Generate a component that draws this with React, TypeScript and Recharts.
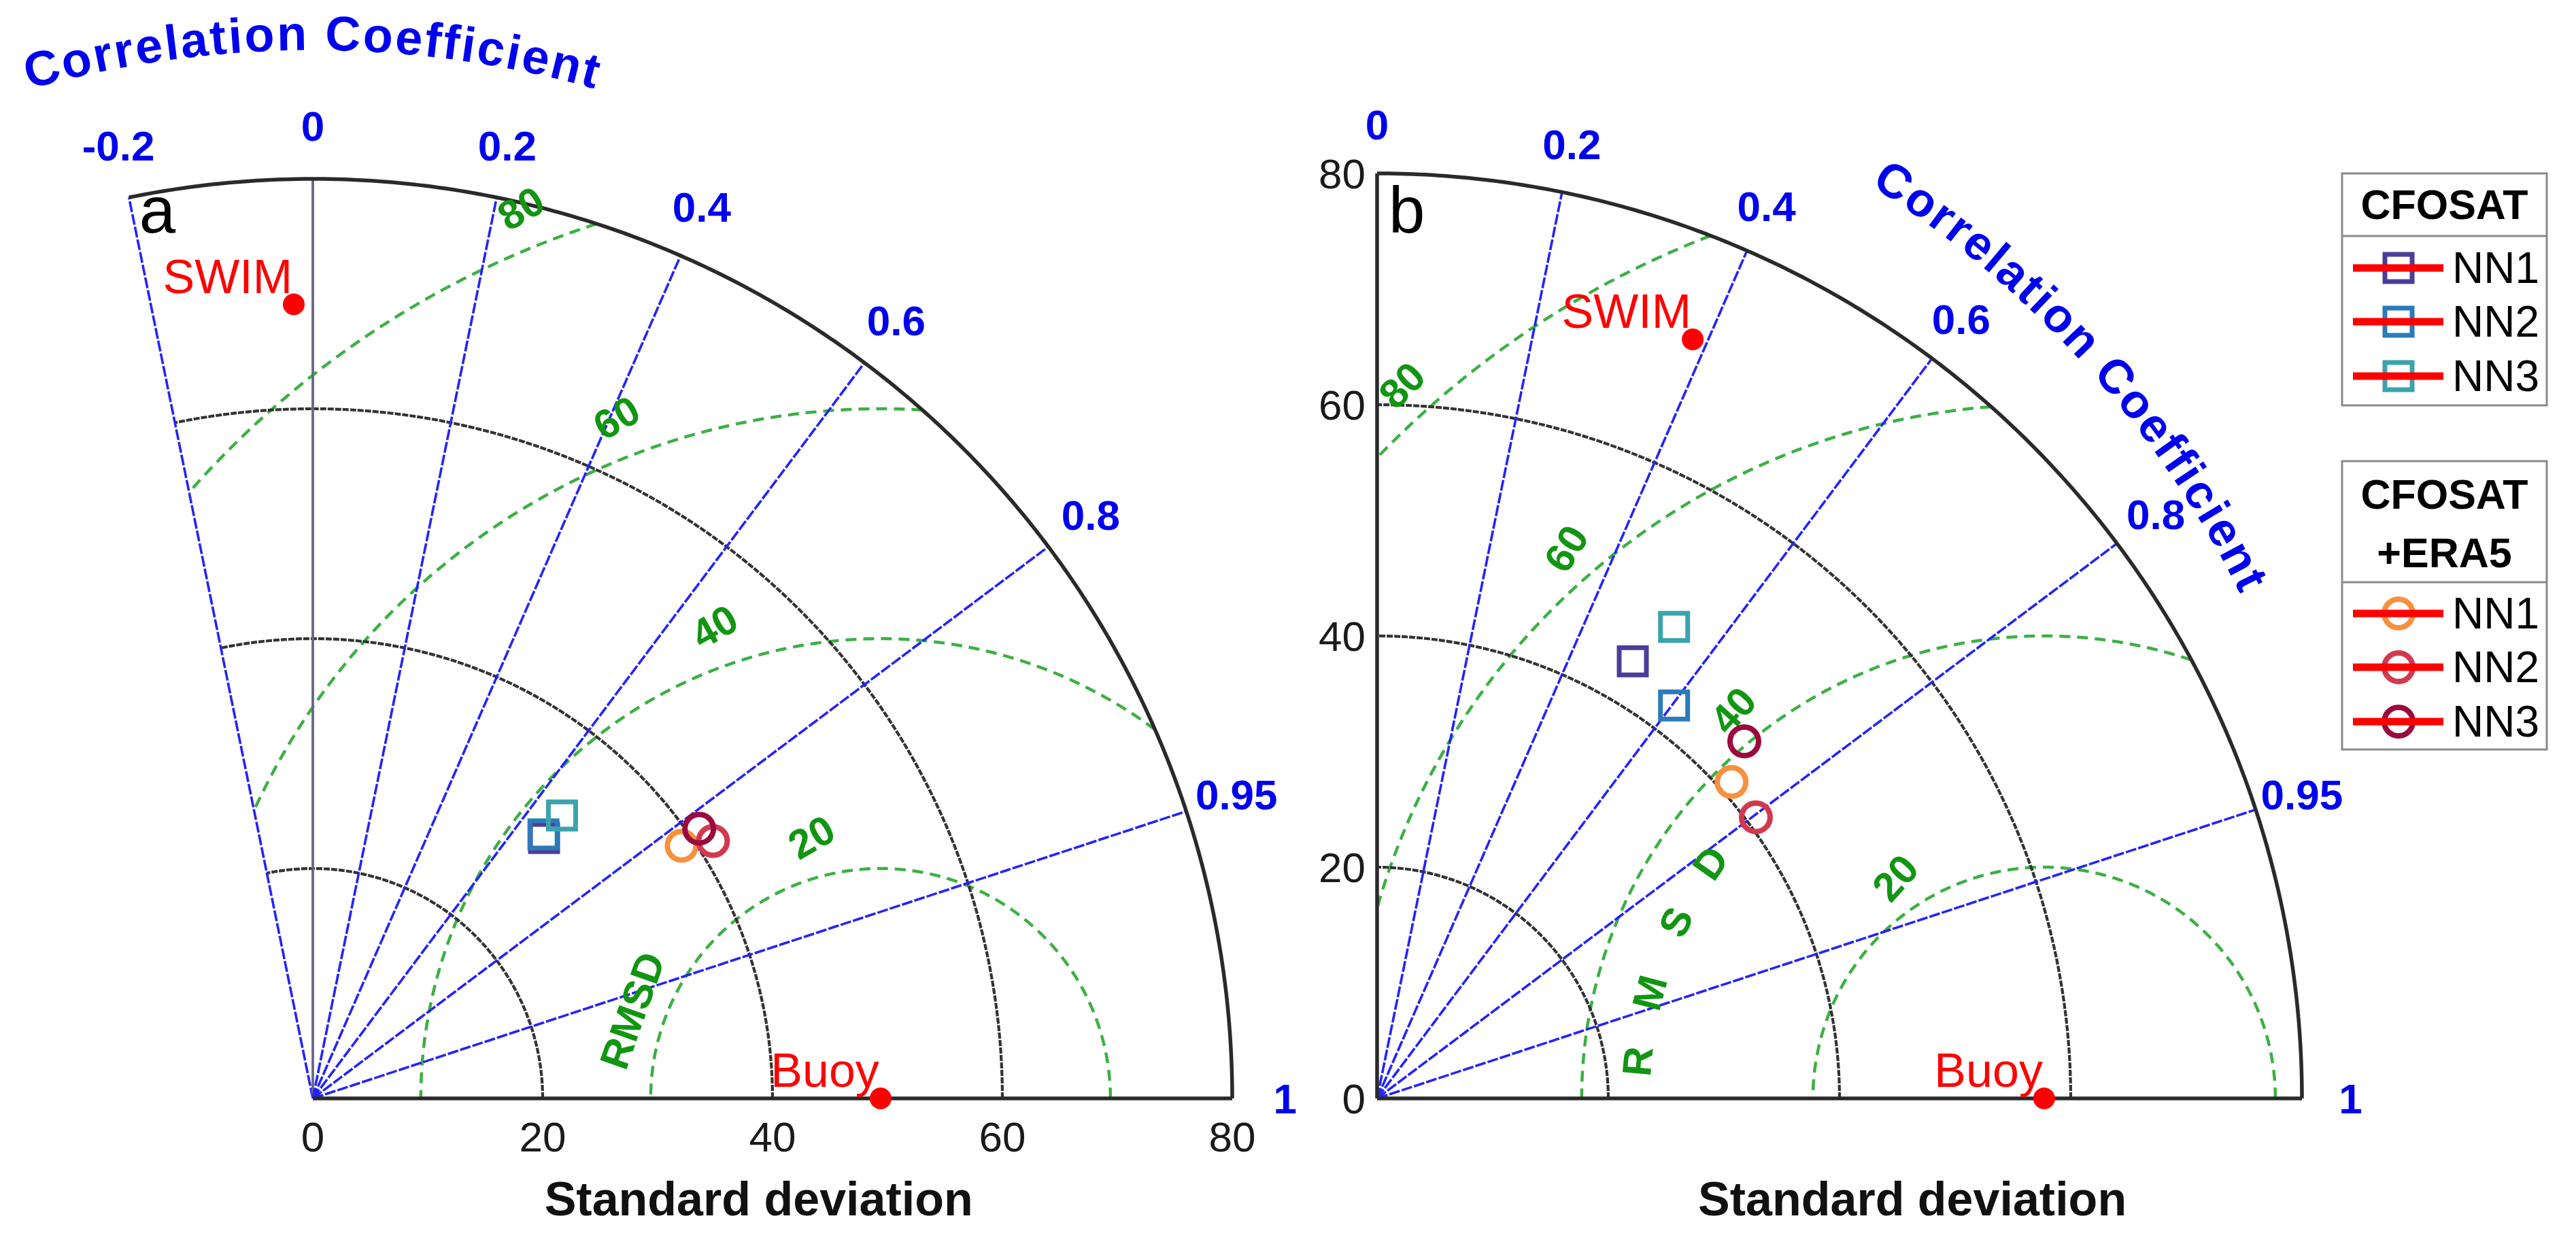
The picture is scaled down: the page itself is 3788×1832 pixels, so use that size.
import React from 'react';
import { ScatterChart, Scatter, XAxis, YAxis } from 'recharts';

const FONT = '"Liberation Sans", Arial, Helvetica, sans-serif';

// ---------------- data ----------------
const STD_TICKS = [0, 20, 40, 60, 80];
const STD_ARC_LEVELS = [20, 40, 60];
const STD_MAX = 80;
const RMSD_LEVELS = [20, 40, 60, 80];
const RMSD_LABELS = ['20', '40', '60', '80'];
const CORR_TICKS_A = [-0.2, 0, 0.2, 0.4, 0.6, 0.8, 0.95, 1];
const CORR_TICKS_B = [0, 0.2, 0.4, 0.6, 0.8, 0.95, 1];
const MODEL_NAMES = ['NN1', 'NN2', 'NN3'];
const GROUP_CFOSAT = ['CFOSAT'];
const GROUP_ERA5 = ['CFOSAT', '+ERA5'];
const REF_NAME = 'Buoy';
const SAT_NAME = 'SWIM';
const AXIS_TITLE = 'Standard deviation';
const CORR_TITLE = 'Correlation Coefficient';

// panel a
const A_BUOY_STD = 49.4;
const A_SWIM_STD = 69.1;
const A_SWIM_CORR = -0.024;
const A_CFOSAT_STD = [30.3, 30.5, 32.8];
const A_CFOSAT_CORR = [0.664, 0.658, 0.661];
const A_ERA5_STD = [38.9, 41.4, 41.0];
const A_ERA5_CORR = [0.825, 0.841, 0.82];

// panel b
const B_BUOY_STD = 57.7;
const B_SWIM_STD = 71.1;
const B_SWIM_CORR = 0.384;
const B_CFOSAT_STD = [43.8, 42.6, 48.2];
const B_CFOSAT_CORR = [0.505, 0.603, 0.533];
const B_ERA5_STD = [41.1, 40.8, 44.3];
const B_ERA5_CORR = [0.746, 0.803, 0.717];

// ---------------- styles ----------------
const CFOSAT_COLORS = ['#4b3d98', '#2b7bba', '#3ba3ad'];
const ERA5_COLORS = ['#f7913d', '#d1394f', '#9b0a3c'];
const BLUE_LINE = '#2323ff';
const BLUE_TEXT = '#0000f0';
const GREEN_DASH = '#3cb043';
const GREEN_TEXT = '#129512';
const RED = '#ff0000';

// ---------------- layout ----------------
const LAYOUT_A = {
  left: -100,
  width: 2060,
  margin: { top: 9.5, right: 12.8, bottom: 117, left: 53 },
  xDomain: [-30, 88],
  yDomain: [0, 95],
  showX: true,
  showY: false,
  corrLabelR: 84.6,
  titleR0: 91.2,
  titleR1: 91.2,
  titleDeg: 90,
  titleSpan: 36,
  titleSize: 72,
  titleSpacing: 3,
  rmsdDeg: [104.8, 109.4, 111.2, 112],
  rmsdGap: 3.5,
  rmsdRot: [-30, -30, -30, -30],
  rmsdWordDist: 22.9,
  rmsdWord: [{ t: 'RMSD', deg: 160.5 }],
  sdX: 38.8,
  letter: 'a',
  letterX: -15.1,
  letterY: 75.3,
};

const LAYOUT_B = {
  left: 1900,
  width: 1888,
  margin: { top: 17, right: 267, bottom: 217, left: 25 },
  xDomain: [0, 88],
  yDomain: [0, 94],
  showX: false,
  showY: true,
  corrLabelR: 84.2,
  titleR0: 90.2,
  titleR1: 86.0,
  titleDeg: 45.8,
  titleSpan: 40,
  titleSize: 70,
  titleSpacing: 3,
  rmsdDeg: [124, 128.7, 131, 132],
  rmsdGap: 3,
  rmsdRot: [-48, -48, -58, -45],
  rmsdWordDist: 35.3,
  rmsdWord: [
    { t: 'R', deg: 174.8 },
    { t: 'M', deg: 165 },
    { t: 'S', deg: 154.4 },
    { t: 'D', deg: 144.8 },
  ],
  sdX: 46.3,
  letter: 'b',
  letterX: 1.0,
  letterY: 74.9,
};

const PANEL_A = {
  id: 'a',
  corrTicks: CORR_TICKS_A,
  refStd: A_BUOY_STD,
  swimStd: A_SWIM_STD,
  swimCorr: A_SWIM_CORR,
  cfStd: A_CFOSAT_STD,
  cfCorr: A_CFOSAT_CORR,
  erStd: A_ERA5_STD,
  erCorr: A_ERA5_CORR,
  layout: LAYOUT_A,
};

const PANEL_B = {
  id: 'b',
  corrTicks: CORR_TICKS_B,
  refStd: B_BUOY_STD,
  swimStd: B_SWIM_STD,
  swimCorr: B_SWIM_CORR,
  cfStd: B_CFOSAT_STD,
  cfCorr: B_CFOSAT_CORR,
  erStd: B_ERA5_STD,
  erCorr: B_ERA5_CORR,
  layout: LAYOUT_B,
};

const LEGEND_BOXES = [
  { x: 3444, y: 255, w: 301, h: 341, divider: 347, titleYs: [301], itemYs: [394, 473, 553] },
  { x: 3444, y: 678, w: 301, h: 424, divider: 856, titleYs: [727, 813], itemYs: [902, 981, 1061] },
];

// ---------------- geometry helpers ----------------
const rad = (d: number) => (d * Math.PI) / 180;
const toXY = (std: number, corr: number) => ({
  x: std * corr,
  y: std * Math.sqrt(Math.max(0, 1 - corr * corr)),
});

function arcPoints(r: number, a0: number, a1: number, n: number) {
  const out: { x: number; y: number }[] = [];
  for (let i = 0; i <= n; i++) {
    const a = a0 + ((a1 - a0) * i) / n;
    out.push({ x: r * Math.cos(a), y: r * Math.sin(a) });
  }
  return out;
}

// arc whose radius changes linearly from r0 to r1 (used as a text baseline)
function spiralPoints(r0: number, r1: number, a0: number, a1: number, n: number) {
  const out: { x: number; y: number }[] = [];
  for (let i = 0; i <= n; i++) {
    const t = i / n;
    const a = a0 + (a1 - a0) * t;
    const r = r0 + (r1 - r0) * t;
    out.push({ x: r * Math.cos(a), y: r * Math.sin(a) });
  }
  return out;
}

function rmsdArc(ref: number, lvl: number, maxStd: number, maxAng: number) {
  const pt = (f: number) => ({ x: ref + lvl * Math.cos(f), y: lvl * Math.sin(f) });
  const inside = (f: number) => {
    const q = pt(f);
    return Math.hypot(q.x, q.y) <= maxStd && Math.atan2(q.y, q.x) <= maxAng;
  };
  const N = 480;
  const out: { x: number; y: number }[] = [];
  let prevF = 0;
  let prevIn = inside(0);
  if (prevIn) out.push(pt(0));
  for (let i = 1; i <= N; i++) {
    const f = (Math.PI * i) / N;
    const cur = inside(f);
    if (cur !== prevIn) {
      let lo = prevF;
      let hi = f;
      for (let k = 0; k < 30; k++) {
        const m = (lo + hi) / 2;
        if (inside(m) === prevIn) lo = m;
        else hi = m;
      }
      out.push(pt(prevIn ? lo : hi));
    }
    if (cur) out.push(pt(f));
    prevF = f;
    prevIn = cur;
  }
  return out;
}

// ---------------- shapes ----------------
const noShape = () => <g />;

type TextOpts = {
  size: number;
  color: string;
  bold?: boolean;
  anchor?: 'start' | 'middle' | 'end';
  dx?: number;
  dy?: number;
  baseline?: string;
  spacing?: number;
};

const textShape = (o: TextOpts) => (sp: any) => {
  const x = sp.cx + (o.dx || 0);
  const y = sp.cy + (o.dy || 0);
  const rot = sp.payload && sp.payload.rot;
  return (
    <text
      x={x}
      y={y}
      fontFamily={FONT}
      fontSize={o.size}
      fontWeight={o.bold ? 'bold' : 'normal'}
      fill={o.color}
      textAnchor={o.anchor || 'middle'}
      dominantBaseline={o.baseline || 'auto'}
      letterSpacing={o.spacing}
      transform={rot ? `rotate(${rot} ${x} ${y})` : undefined}
    >
      {sp.payload ? sp.payload.label : ''}
    </text>
  );
};

const squareShape = (color: string) => (sp: any) => (
  <rect x={sp.cx - 20} y={sp.cy - 20} width={40} height={40} fill="none" stroke={color} strokeWidth={7} />
);

const circleShape = (color: string) => (sp: any) => (
  <circle cx={sp.cx} cy={sp.cy} r={21} fill="none" stroke={color} strokeWidth={8} />
);

const refShape = (sp: any) => (
  <g>
    <circle cx={sp.cx} cy={sp.cy} r={16} fill={RED} />
    <text x={sp.cx - 2} y={sp.cy - 17} fontFamily={FONT} fontSize={70} fill={RED} textAnchor="end">
      {sp.payload ? sp.payload.label : ''}
    </text>
  </g>
);

const curvedTitle = (id: string, size: number, spacing: number) => (lp: any) => {
  const pts = (lp && lp.points) || [];
  const d = pts
    .map((q: any, i: number) => `${i ? 'L' : 'M'}${q.x.toFixed(1)},${q.y.toFixed(1)}`)
    .join(' ');
  return (
    <g>
      <path id={id} d={d} fill="none" stroke="none" />
      <text fontFamily={FONT} fontWeight="bold" fontSize={size} fill={BLUE_TEXT} letterSpacing={spacing}>
        <textPath href={`#${id}`} startOffset="50%" textAnchor="middle">
          {CORR_TITLE}
        </textPath>
      </text>
    </g>
  );
};

// ---------------- panel ----------------
function Panel({ p }: { p: any }) {
  const L = p.layout;
  const maxAng = Math.acos(p.corrTicks[0]);
  const items: React.ReactNode[] = [];
  const common = { isAnimationActive: false, shape: noShape } as any;

  // RMSD circles
  RMSD_LEVELS.forEach((lvl, i) => {
    items.push(
      <Scatter
        key={`rmsd-${i}`}
        {...common}
        data={rmsdArc(p.refStd, lvl, STD_MAX, maxAng)}
        line={{ stroke: GREEN_DASH, strokeWidth: 4.5, strokeDasharray: '16 10' }}
      />
    );
  });

  // inner std arcs
  STD_ARC_LEVELS.forEach((r, i) => {
    items.push(
      <Scatter
        key={`std-${i}`}
        {...common}
        data={arcPoints(r, 0, maxAng, 160)}
        line={{ stroke: '#333333', strokeWidth: 4.2, strokeDasharray: '9 2' }}
      />
    );
  });

  // correlation rays
  p.corrTicks
    .filter((c: number) => c < 1 && !(p.id === 'b' && c === 0))
    .forEach((c: number, i: number) => {
      const isZero = c === 0;
      items.push(
        <Scatter
          key={`ray-${i}`}
          {...common}
          data={[{ x: 0, y: 0 }, toXY(STD_MAX, c)]}
          line={
            isZero
              ? { stroke: '#66668a', strokeWidth: 3.8 }
              : { stroke: BLUE_LINE, strokeWidth: 3.6, strokeDasharray: '16 3' }
          }
        />
      );
    });

  // outer arc and axis lines
  items.push(
    <Scatter
      key="outer"
      {...common}
      data={arcPoints(STD_MAX, 0, maxAng, 240)}
      line={{ stroke: '#2a2a2a', strokeWidth: 5.5 }}
    />
  );
  items.push(
    <Scatter
      key="xaxis"
      {...common}
      data={[{ x: 0, y: 0 }, { x: STD_MAX, y: 0 }]}
      line={{ stroke: '#2a2a2a', strokeWidth: 5.5 }}
    />
  );
  if (p.id === 'b') {
    items.push(
      <Scatter
        key="yaxis"
        {...common}
        data={[{ x: 0, y: 0 }, { x: 0, y: STD_MAX }]}
        line={{ stroke: '#2a2a2a', strokeWidth: 5.5 }}
      />
    );
  }

  // correlation tick labels
  items.push(
    <Scatter
      key="corr-labels"
      isAnimationActive={false}
      data={p.corrTicks.map((c: number) => ({ ...toXY(L.corrLabelR, c), label: String(c) }))}
      shape={textShape({ size: 62, color: BLUE_TEXT, bold: true, baseline: 'central' })}
    />
  );

  // curved title
  const tc = L.titleDeg;
  const ts = L.titleSpan / 2;
  items.push(
    <Scatter
      key="corr-title"
      {...common}
      data={spiralPoints(L.titleR0, L.titleR1, rad(tc + ts), rad(tc - ts), 80)}
      line={curvedTitle(`corr-title-${p.id}`, L.titleSize, L.titleSpacing)}
    />
  );

  // RMSD level labels
  items.push(
    <Scatter
      key="rmsd-labels"
      isAnimationActive={false}
      data={RMSD_LEVELS.map((lvl, i) => {
        const a = rad(L.rmsdDeg[i]);
        const r = lvl + L.rmsdGap;
        return { x: p.refStd + r * Math.cos(a), y: r * Math.sin(a), label: RMSD_LABELS[i], rot: L.rmsdRot[i] };
      })}
      shape={textShape({ size: 60, color: GREEN_TEXT, bold: true, baseline: 'central' })}
    />
  );
  items.push(
    <Scatter
      key="rmsd-word"
      isAnimationActive={false}
      data={L.rmsdWord.map((w: any) => {
        const a = rad(w.deg);
        return {
          x: p.refStd + L.rmsdWordDist * Math.cos(a),
          y: L.rmsdWordDist * Math.sin(a),
          label: w.t,
          rot: 90 - w.deg,
        };
      })}
      shape={textShape({ size: 60, color: GREEN_TEXT, bold: true, baseline: 'central' })}
    />
  );

  // axis title + panel letter
  items.push(
    <Scatter
      key="sd-title"
      isAnimationActive={false}
      data={[{ x: L.sdX, y: 0, label: AXIS_TITLE }]}
      shape={textShape({ size: 70, color: '#111', bold: true, dy: 172 })}
    />
  );
  items.push(
    <Scatter
      key="letter"
      isAnimationActive={false}
      data={[{ x: L.letterX, y: L.letterY, label: L.letter }]}
      shape={textShape({ size: 96, color: '#000', anchor: 'start' })}
    />
  );

  // reference points
  items.push(
    <Scatter
      key="refs"
      isAnimationActive={false}
      data={[
        { x: p.refStd, y: 0, label: REF_NAME },
        { ...toXY(p.swimStd, p.swimCorr), label: SAT_NAME },
      ]}
      shape={refShape}
    />
  );

  // model markers
  MODEL_NAMES.forEach((name, i) => {
    items.push(
      <Scatter
        key={`cf-${i}`}
        name={`CFOSAT ${name}`}
        isAnimationActive={false}
        data={[toXY(p.cfStd[i], p.cfCorr[i])]}
        shape={squareShape(CFOSAT_COLORS[i])}
      />
    );
  });
  MODEL_NAMES.forEach((name, i) => {
    items.push(
      <Scatter
        key={`er-${i}`}
        name={`CFOSAT+ERA5 ${name}`}
        isAnimationActive={false}
        data={[toXY(p.erStd[i], p.erCorr[i])]}
        shape={circleShape(ERA5_COLORS[i])}
      />
    );
  });

  const tick = { fontSize: 62, fill: '#1a1a1a', fontFamily: FONT };

  return (
    <div style={{ position: 'absolute', left: L.left, top: 0 }}>
      <ScatterChart width={L.width} height={1832} margin={L.margin}>
        <XAxis
          type="number"
          dataKey="x"
          domain={L.xDomain}
          hide={!L.showX}
          ticks={STD_TICKS}
          interval={0}
          axisLine={false}
          tickLine={false}
          tickMargin={28}
          height={100}
          tick={tick}
        />
        <YAxis
          type="number"
          dataKey="y"
          domain={L.yDomain}
          hide={!L.showY}
          ticks={STD_TICKS}
          interval={0}
          axisLine={false}
          tickLine={false}
          tickMargin={11}
          width={100}
          tick={tick}
        />
        {items}
      </ScatterChart>
    </div>
  );
}

// ---------------- legend ----------------
function LegendBoxes() {
  const groups = [
    { titles: GROUP_CFOSAT, colors: CFOSAT_COLORS, kind: 'square' },
    { titles: GROUP_ERA5, colors: ERA5_COLORS, kind: 'circle' },
  ];
  return (
    <svg width={3788} height={1832} style={{ position: 'absolute', left: 0, top: 0, pointerEvents: 'none' }}>
      {groups.map((g, gi) => {
        const b = LEGEND_BOXES[gi];
        const mx = b.x + 83;
        return (
          <g key={gi}>
            <rect x={b.x} y={b.y} width={b.w} height={b.h} fill="#fff" stroke="#8a8a8a" strokeWidth={3} />
            <line x1={b.x} x2={b.x + b.w} y1={b.divider} y2={b.divider} stroke="#8a8a8a" strokeWidth={3} />
            {g.titles.map((t, ti) => (
              <text
                key={ti}
                x={b.x + b.w / 2}
                y={b.titleYs[ti]}
                fontFamily={FONT}
                fontWeight="bold"
                fontSize={61}
                fill="#000"
                textAnchor="middle"
                dominantBaseline="central"
              >
                {t}
              </text>
            ))}
            {MODEL_NAMES.map((n, i) => {
              const y = b.itemYs[i];
              return (
                <g key={n}>
                  {g.kind === 'square' ? (
                    <rect x={mx - 20} y={y - 20} width={40} height={40} fill="none" stroke={g.colors[i]} strokeWidth={7} />
                  ) : (
                    <circle cx={mx} cy={y} r={21} fill="none" stroke={g.colors[i]} strokeWidth={8} />
                  )}
                  <line x1={b.x + 16} x2={b.x + 149} y1={y} y2={y} stroke={RED} strokeWidth={11} />
                  <text x={b.x + 162} y={y} fontFamily={FONT} fontSize={64} fill="#000" dominantBaseline="central">
                    {n}
                  </text>
                </g>
              );
            })}
          </g>
        );
      })}
    </svg>
  );
}

export default function App() {
  return (
    <div
      style={{
        position: 'absolute',
        left: 0,
        top: 0,
        width: 3788,
        height: 1832,
        background: '#fff',
        overflow: 'hidden',
      }}
    >
      <Panel p={PANEL_A} />
      <Panel p={PANEL_B} />
      <LegendBoxes />
    </div>
  );
}
